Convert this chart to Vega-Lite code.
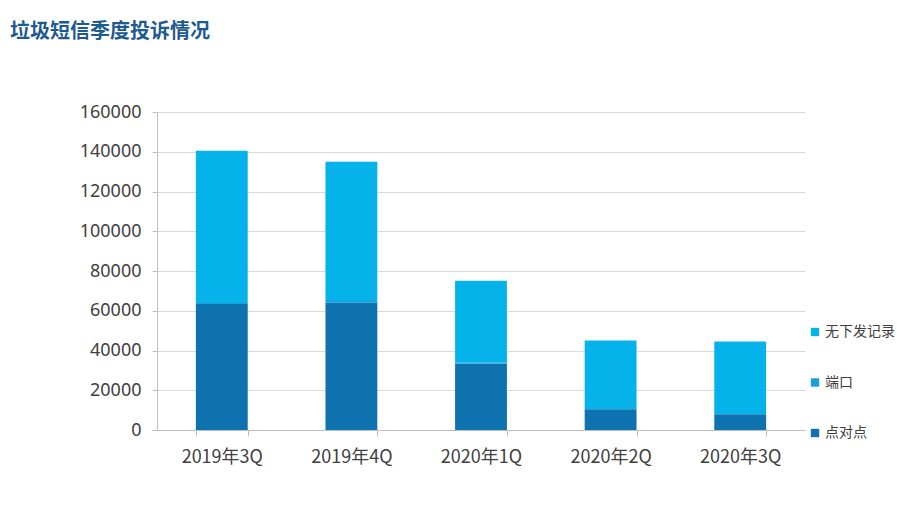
{
  "$schema": "https://vega.github.io/schema/vega-lite/v6.json",
  "width": 648,
  "height": 318,
  "autosize": "none",
  "padding": {"left": 157, "top": 112, "right": 92, "bottom": 77},
  "background": "white",
  "title": {
    "text": "垃圾短信季度投诉情况",
    "anchor": "start",
    "frame": "group",
    "dx": -147,
    "offset": 61,
    "font": "Noto Sans CJK SC",
    "fontSize": 20,
    "fontWeight": "bold",
    "color": "#1d5a8f"
  },
  "data": {
    "values": [
      {"q": "2019年3Q", "type": "点对点", "order": 1, "v": 63400},
      {"q": "2019年3Q", "type": "端口", "order": 2, "v": 500},
      {"q": "2019年3Q", "type": "无下发记录", "order": 3, "v": 76600},
      {"q": "2019年4Q", "type": "点对点", "order": 1, "v": 64000},
      {"q": "2019年4Q", "type": "端口", "order": 2, "v": 900},
      {"q": "2019年4Q", "type": "无下发记录", "order": 3, "v": 70100},
      {"q": "2020年1Q", "type": "点对点", "order": 1, "v": 33500},
      {"q": "2020年1Q", "type": "端口", "order": 2, "v": 300},
      {"q": "2020年1Q", "type": "无下发记录", "order": 3, "v": 41300},
      {"q": "2020年2Q", "type": "点对点", "order": 1, "v": 10400},
      {"q": "2020年2Q", "type": "端口", "order": 2, "v": 200},
      {"q": "2020年2Q", "type": "无下发记录", "order": 3, "v": 34400},
      {"q": "2020年3Q", "type": "点对点", "order": 1, "v": 7900},
      {"q": "2020年3Q", "type": "端口", "order": 2, "v": 200},
      {"q": "2020年3Q", "type": "无下发记录", "order": 3, "v": 36400}
    ]
  },
  "mark": {"type": "bar", "stroke": null},
  "encoding": {
    "x": {
      "field": "q",
      "type": "nominal",
      "sort": null,
      "scale": {"paddingInner": 0.6, "paddingOuter": 0.3},
      "axis": {
        "title": null,
        "labelAngle": 0,
        "labelFont": "Noto Sans CJK SC",
        "labelFontSize": 18,
        "labelColor": "#404040",
        "labelPadding": 12,
        "domainColor": "#bfbfbf",
        "tickColor": "#bfbfbf",
        "tickBand": "extent",
        "tickSize": 6,
        "grid": false
      }
    },
    "y": {
      "field": "v",
      "type": "quantitative",
      "stack": "zero",
      "scale": {"domain": [0, 160000]},
      "axis": {
        "title": null,
        "values": [0, 20000, 40000, 60000, 80000, 100000, 120000, 140000, 160000],
        "format": "d",
        "labelFont": "Noto Sans",
        "labelFontSize": 18,
        "labelColor": "#404040",
        "labelPadding": 11,
        "domain": true,
        "domainColor": "#bfbfbf",
        "tickColor": "#bfbfbf",
        "tickSize": 5,
        "gridColor": "#d9d9d9"
      }
    },
    "color": {
      "field": "type",
      "type": "nominal",
      "scale": {
        "domain": ["无下发记录", "端口", "点对点"],
        "range": ["#05b3ea", "#1a9fd8", "#0d72ad"]
      },
      "legend": {
        "title": null,
        "orient": "none",
        "legendX": 651,
        "legendY": 213,
        "symbolType": "square",
        "symbolSize": 70,
        "symbolStrokeWidth": 0,
        "labelFont": "Noto Sans CJK SC",
        "labelFontSize": 14,
        "labelColor": "#404040",
        "rowPadding": 36.5,
        "labelOffset": 3
      }
    },
    "order": {"field": "order", "type": "quantitative"}
  },
  "config": {"view": {"stroke": null}}
}
